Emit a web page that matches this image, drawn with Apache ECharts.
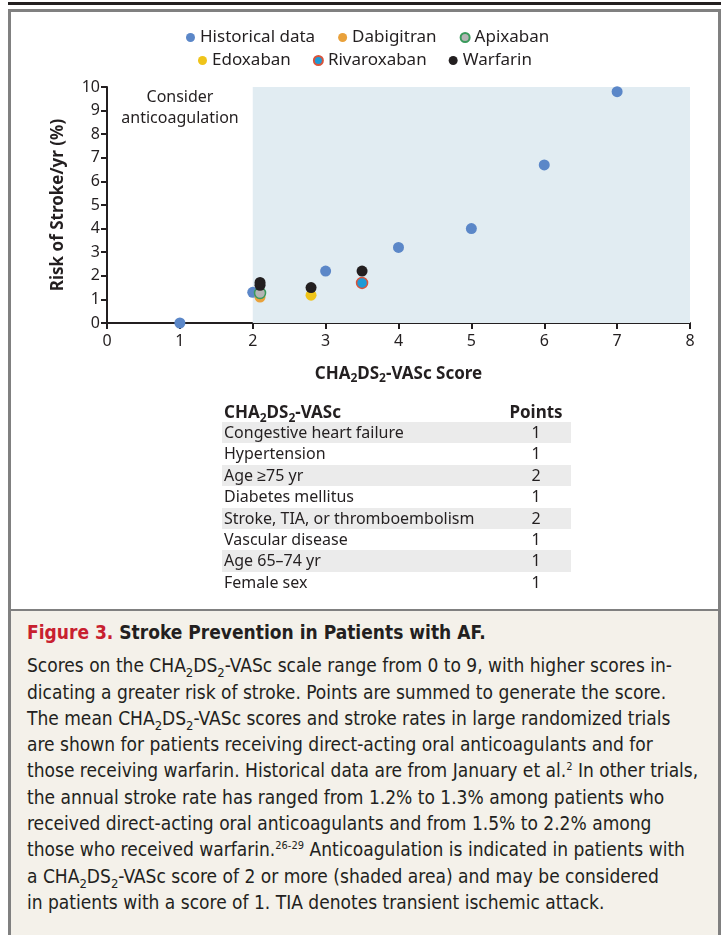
<!DOCTYPE html>
<html>
<head>
<meta charset="utf-8">
<script src="https://cdn.jsdelivr.net/npm/echarts@6/dist/echarts.min.js"></script>
<style>
  body { margin: 0; background: #fff; width: 721px; height: 935px; overflow: hidden; position: relative; font-family: "Noto Sans", sans-serif; color: #231f20; }
  #topbar { position: absolute; left: 8px; top: 2px; width: 713px; height: 3px; background: #231f20; }
  #frame { position: absolute; left: 8px; top: 9px; width: 707px; height: 940px; border: 3px solid #808080; border-bottom: none; background: #fff; }
  #chart { position: absolute; left: 0; top: 0; width: 721px; height: 600px; }
  #tbl { position: absolute; left: 222px; top: 402px; width: 349px; border-collapse: collapse; font-size: 16px; }
  #tbl td { height: 21.4px; padding: 0 0 0 2px; line-height: 21.4px; }
  #tbl td.p { text-align: center; width: 70px; }
  #tbl tr.g td { background: #ebebeb; }
  #tbl th { font-weight: bold; font-size: 17px; text-align: left; padding: 0 0 0 2px; height: 20px; line-height: 20px; }
  #tbl th.p { text-align: center; }
  sub, sup { line-height: 0; }
  #cap { position: absolute; left: 11px; top: 609px; width: 707px; height: 330px; background: #f4f1ea; border-top: 2px solid #808080;
         font-family: "Liberation Sans Narrow", "DejaVu Sans Condensed", sans-serif; font-size: 19px; line-height: 26.3px; padding: 8px 0 0 16px; box-sizing: border-box; }
  #cap .t { font-weight: bold; margin-bottom: 7px; }
  #cap .t span { color: #c8202f; }
</style>
</head>
<body>
<div id="topbar"></div>
<div id="frame"></div>
<div id="chart"></div>
<table id="tbl"></table>
<div id="cap">
  <div class="t"><span>Figure 3.</span> Stroke Prevention in Patients with AF.</div>
  <div>Scores on the CHA<sub style="font-size:13px">2</sub>DS<sub style="font-size:13px">2</sub>-VASc scale range from 0 to 9, with higher scores in-<br>
  dicating a greater risk of stroke. Points are summed to generate the score.<br>
  The mean CHA<sub style="font-size:13px">2</sub>DS<sub style="font-size:13px">2</sub>-VASc scores and stroke rates in large randomized trials<br>
  are shown for patients receiving direct-acting oral anticoagulants and for<br>
  those receiving warfarin. Historical data are from January et al.<sup style="font-size:11px">2</sup> In other trials,<br>
  the annual stroke rate has ranged from 1.2% to 1.3% among patients who<br>
  received direct-acting oral anticoagulants and from 1.5% to 2.2% among<br>
  those who received warfarin.<sup style="font-size:11px">26-29</sup> Anticoagulation is indicated in patients with<br>
  a CHA<sub style="font-size:13px">2</sub>DS<sub style="font-size:13px">2</sub>-VASc score of 2 or more (shaded area) and may be considered<br>
  in patients with a score of 1. TIA denotes transient ischemic attack.</div>
</div>
<script>
// scatter data: [score, risk %/yr]
var historical = [[1, 0], [2, 1.3], [3, 2.2], [4, 3.2], [5, 4.0], [6, 6.7], [7, 9.8]];
var dabigitran = [[2.1, 1.1]];
var apixaban = [[2.1, 1.27]];
var edoxaban = [[2.8, 1.18]];
var rivaroxaban = [[3.5, 1.7]];
var warfarin = [[2.1, 1.6], [2.1, 1.72], [2.8, 1.5], [3.5, 2.2]];

var xTicks = [0, 1, 2, 3, 4, 5, 6, 7, 8];
var yTicks = [0, 1, 2, 3, 4, 5, 6, 7, 8, 9, 10];

// score table
var factors = ['Congestive heart failure', 'Hypertension', 'Age \u226575 yr', 'Diabetes mellitus',
  'Stroke, TIA, or thromboembolism', 'Vascular disease', 'Age 65\u201374 yr', 'Female sex'];
var points = [1, 1, 2, 1, 2, 1, 1, 1];

var tbl = document.getElementById('tbl');
var html = '<tr><th>CHA<sub style="font-size:12px">2</sub>DS<sub style="font-size:12px">2</sub>-VASc</th><th class="p">Points</th></tr>';
factors.forEach(function (f, i) {
  html += '<tr' + (i % 2 === 0 ? ' class="g"' : '') + '><td>' + f + '</td><td class="p">' + points[i] + '</td></tr>';
});
tbl.innerHTML = html;

var ink = '#231f20';
var font = 'Noto Sans';

function dot(name, data, color, border) {
  return {
    name: name,
    type: 'scatter',
    data: data,
    symbolSize: 11,
    itemStyle: { color: color, borderColor: border || color, borderWidth: border ? 1.5 : 0, opacity: 1 }
  };
}

var series = [
  dot('Historical data', historical, '#5b87c8'),
  dot('Dabigitran', dabigitran, '#e9a13b'),
  dot('Apixaban', apixaban, '#b4b4b4', '#3a9a5c'),
  dot('Edoxaban', edoxaban, '#efc41a'),
  dot('Rivaroxaban', rivaroxaban, '#1e9ad6', '#d9533a'),
  dot('Warfarin', warfarin, '#231f20')
];
series[0].markArea = {
  silent: true,
  itemStyle: { color: '#e1ecf2' },
  data: [[{ xAxis: 2, yAxis: 0 }, { xAxis: 8, yAxis: 10 }]]
};

var legendText = { fontSize: 17, color: ink, fontFamily: font };

var option = {
  animation: false,
  textStyle: { fontFamily: font },
  legend: [
    { data: ['Historical data', 'Dabigitran', 'Apixaban'], top: 24, left: 181, icon: 'circle',
      itemWidth: 9, itemHeight: 9, itemGap: 23, textStyle: legendText },
    { data: ['Edoxaban', 'Rivaroxaban', 'Warfarin'], top: 47, left: 193, icon: 'circle',
      itemWidth: 9, itemHeight: 9, itemGap: 22, textStyle: legendText }
  ],
  grid: { left: 107, right: 31, top: 87, bottom: 277 },
  xAxis: {
    type: 'value', min: xTicks[0], max: xTicks[xTicks.length - 1], interval: 1,
    name: '{b|CHA}{s|2}{b|DS}{s|2}{b|-VASc Score}',
    nameLocation: 'middle', nameGap: 40,
    nameTextStyle: { rich: { b: { fontSize: 17, fontWeight: 'bold', color: ink, fontFamily: font },
                             s: { fontSize: 12, fontWeight: 'bold', color: ink, fontFamily: font, padding: [10, 0, 0, 0] } } },
    splitLine: { show: false },
    axisLine: { lineStyle: { color: ink, width: 2 } },
    axisTick: { length: 6, lineStyle: { color: ink, width: 2 } },
    axisLabel: { fontSize: 16, color: ink, margin: 10 }
  },
  yAxis: {
    type: 'value', min: yTicks[0], max: yTicks[yTicks.length - 1], interval: 1,
    name: 'Risk of Stroke/yr (%)', nameLocation: 'middle', nameGap: 40,
    nameTextStyle: { fontSize: 17, fontWeight: 'bold', color: ink },
    splitLine: { show: false },
    axisLine: { show: true, lineStyle: { color: ink, width: 2 } },
    axisTick: { show: true, length: 6, lineStyle: { color: ink, width: 2 } },
    axisLabel: { fontSize: 16, color: ink, margin: 7 }
  },
  graphic: [
    { type: 'text', x: 180, y: 87, style: { text: 'Consider\nanticoagulation', fill: ink, font: '16px "Noto Sans"', align: 'center', lineHeight: 21 } },
    { type: 'text', x: 405, y: 87, style: { text: 'Anticoagulation\nindicated', fill: ink, font: '16px "Noto Sans"', align: 'center', lineHeight: 21 } }
  ],
  series: series
};

var chart = echarts.init(document.getElementById('chart'));
chart.setOption(option);
</script>
</body>
</html>
